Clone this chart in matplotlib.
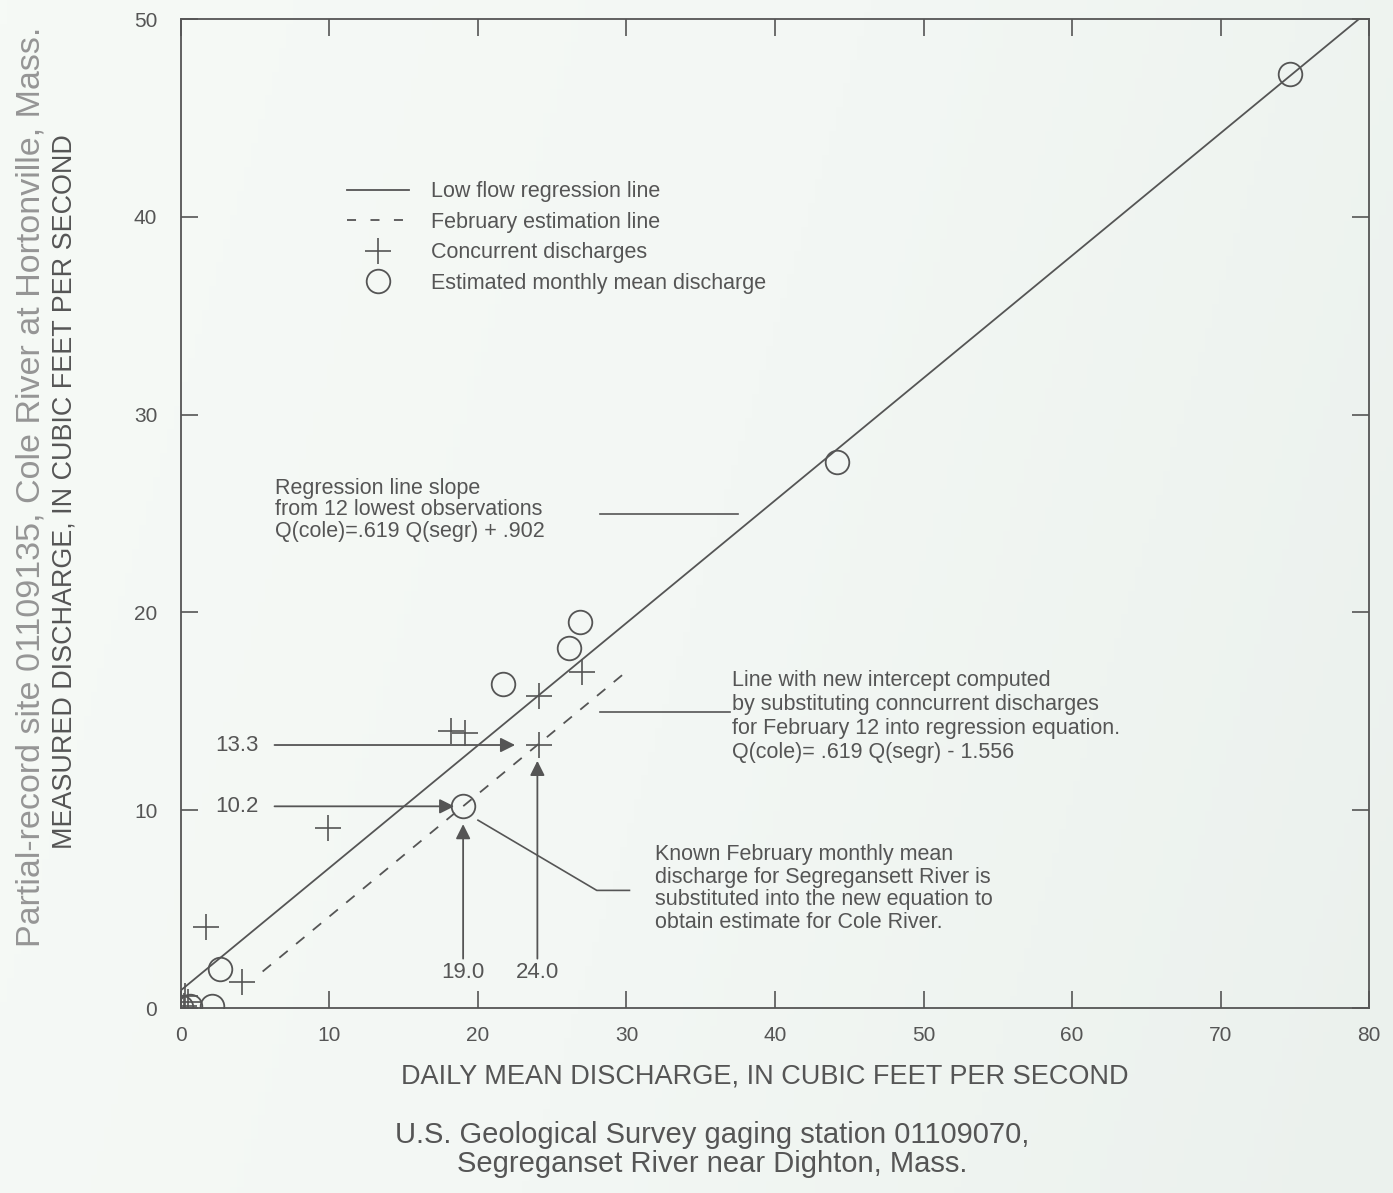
import numpy as np
import matplotlib
matplotlib.use("Agg")
import matplotlib.pyplot as plt
from matplotlib.lines import Line2D
from matplotlib.colors import LinearSegmentedColormap

plt.rcParams['font.family'] = ['Liberation Sans', 'DejaVu Sans']

# Concurrent discharges (Segreganset daily mean, Cole measured)
conc_segr = [0.2, 0.5, 0.3, 1.7, 4.1, 9.9, 18.2, 19.1, 24.1, 24.1, 27.0]
conc_cole = [0.1, 0.3, 0.6, 4.1, 1.3, 9.1, 14.0, 13.9, 15.8, 13.3, 17.0]

# Estimated monthly mean discharges
est_segr = [0.0, 0.6, 2.1, 2.6, 19.0, 21.7, 26.1, 26.9, 44.2, 74.7]
est_cole = [0.05, 0.1, 0.1, 2.0, 10.2, 16.4, 18.2, 19.5, 27.6, 47.2]

# Regression equations
slope = 0.619
icpt_low = 0.902
icpt_feb = -1.556
feb_segr = 19.0
feb_cole = 10.2
known_segr = 24.0
known_cole = 13.3

xticks = [0, 10, 20, 30, 40, 50, 60, 70, 80]
yticks = [0, 10, 20, 30, 40, 50]

ink = '#555555'
bg = '#f3f7f3'

fig = plt.figure(figsize=(13.93, 11.93), dpi=100, facecolor=bg)

# faint paper tone, a little darker toward the right edge
bg_ax = fig.add_axes([0, 0, 1, 1], zorder=-10)
paper = LinearSegmentedColormap.from_list('paper', ['#f6faf6', '#f3f7f4', '#ebf1ed'])
gx, gy = np.meshgrid(np.linspace(0, 1, 200), np.linspace(0, 1, 200))
bg_ax.imshow(0.8 * gx + 0.2 * gy, cmap=paper, aspect='auto', extent=[0, 1, 0, 1])
bg_ax.axis('off')

ax = fig.add_axes([0.1299, 0.155, 0.8529, 0.829])
ax.set_facecolor('none')
ax.set_xlim(0, 80)
ax.set_ylim(0, 50)

for s in ax.spines.values():
    s.set_color(ink)
    s.set_linewidth(1.3)

ax.set_xticks(xticks)
ax.set_yticks(yticks)
ax.tick_params(direction='in', length=12, width=1.2, color=ink, labelcolor=ink,
               labelsize=15, top=True, right=True)
ax.tick_params(axis='y', pad=17)
ax.tick_params(axis='x', pad=13)

# low flow regression line, clipped at the top of the plot
xr = np.array([0.0, (50 - icpt_low) / slope])
ax.plot(xr, slope * xr + icpt_low, color=ink, lw=1.3)

# February estimation line
xf = np.array([5.5, 30.0])
ax.plot(xf, slope * xf + icpt_feb, color=ink, lw=1.3, ls=(0, (6, 6)))

ax.plot(conc_segr, conc_cole, ls='none', marker='+', ms=19, mew=1.2, color=ink)
ax.plot(est_segr, est_cole, ls='none', marker='o', ms=17, mew=1.3,
        mfc='none', mec=ink)

# legend
handles = [
    Line2D([], [], color=ink, lw=1.3),
    Line2D([], [], color=ink, lw=1.3, ls=(0, (5, 8))),
    Line2D([], [], ls='none', marker='+', ms=19, mew=1.2, color=ink),
    Line2D([], [], ls='none', marker='o', ms=17, mew=1.3, mfc='none', mec=ink),
]
labels = ['Low flow regression line', 'February estimation line',
          'Concurrent discharges', 'Estimated monthly mean discharge']
leg = ax.legend(handles, labels, loc='upper left', bbox_to_anchor=(0.1397, 0.836),
                frameon=False, fontsize=15.5, handlelength=2.9, handletextpad=1.0,
                labelspacing=0.44, borderaxespad=0, borderpad=0)
for t in leg.get_texts():
    t.set_color(ink)

arrow_kw = dict(arrowstyle='-|>', color=ink, lw=1.3, mutation_scale=22,
                shrinkA=0, shrinkB=0)

# value arrows
ax.annotate('', xy=(22.5, known_cole), xytext=(6.3, known_cole), arrowprops=arrow_kw)
ax.annotate('', xy=(18.4, feb_cole), xytext=(6.3, feb_cole), arrowprops=arrow_kw)
ax.annotate('', xy=(feb_segr, 9.3), xytext=(feb_segr, 2.5), arrowprops=arrow_kw)
ax.annotate('', xy=(known_segr, 12.5), xytext=(known_segr, 2.5), arrowprops=arrow_kw)

val_kw = dict(ha='center', va='center', fontsize=16, color=ink)
ax.text(3.8, known_cole, f'{known_cole:.1f}', **val_kw)
ax.text(3.8, feb_cole, f'{feb_cole:.1f}', **val_kw)
ax.text(feb_segr, 1.8, f'{feb_segr:.1f}', **val_kw)
ax.text(known_segr, 1.8, f'{known_segr:.1f}', **val_kw)

# explanatory notes with leader lines
note_kw = dict(ha='left', va='center', fontsize=15.5, color=ink)
ax.plot([28.2, 37.5], [25.0, 25.0], color=ink, lw=1.2)
ax.text(6.3, 25.2, 'Regression line slope\nfrom 12 lowest observations\n'
        'Q(cole)=.619 Q(segr) + .902', linespacing=1.03, **note_kw)

ax.plot([28.2, 37.0], [14.95, 14.95], color=ink, lw=1.2)
ax.text(37.1, 14.75, 'Line with new intercept computed\nby substituting conncurrent discharges\n'
        'for February 12 into regression equation.\nQ(cole)= .619 Q(segr) - 1.556',
        linespacing=1.18, **note_kw)

ax.plot([20.0, 28.0, 30.2], [9.5, 5.95, 5.95], color=ink, lw=1.2)
ax.text(31.9, 6.05, 'Known February monthly mean\ndischarge for Segregansett River is\n'
        'substituted into the new equation to\nobtain estimate for Cole River.',
        linespacing=1.1, **note_kw)

# axis titles
fig.text(0.0225, 0.592, 'Partial-record site 01109135, Cole River at Hortonville, Mass.',
         rotation=90, ha='center', va='center', fontsize=24.5, color='#959595')
fig.text(0.046, 0.588, 'MEASURED DISCHARGE, IN CUBIC FEET PER SECOND',
         rotation=90, ha='center', va='center', fontsize=19.4, color=ink)
fig.text(0.549, 0.098, 'DAILY MEAN DISCHARGE, IN CUBIC FEET PER SECOND',
         ha='center', va='center', fontsize=19.5, color=ink)
fig.text(0.511, 0.049, 'U.S. Geological Survey gaging station 01109070,',
         ha='center', va='center', fontsize=21, color=ink)
fig.text(0.511, 0.024, 'Segreganset River near Dighton, Mass.',
         ha='center', va='center', fontsize=21, color=ink)

fig.savefig('out.png', dpi=100)
